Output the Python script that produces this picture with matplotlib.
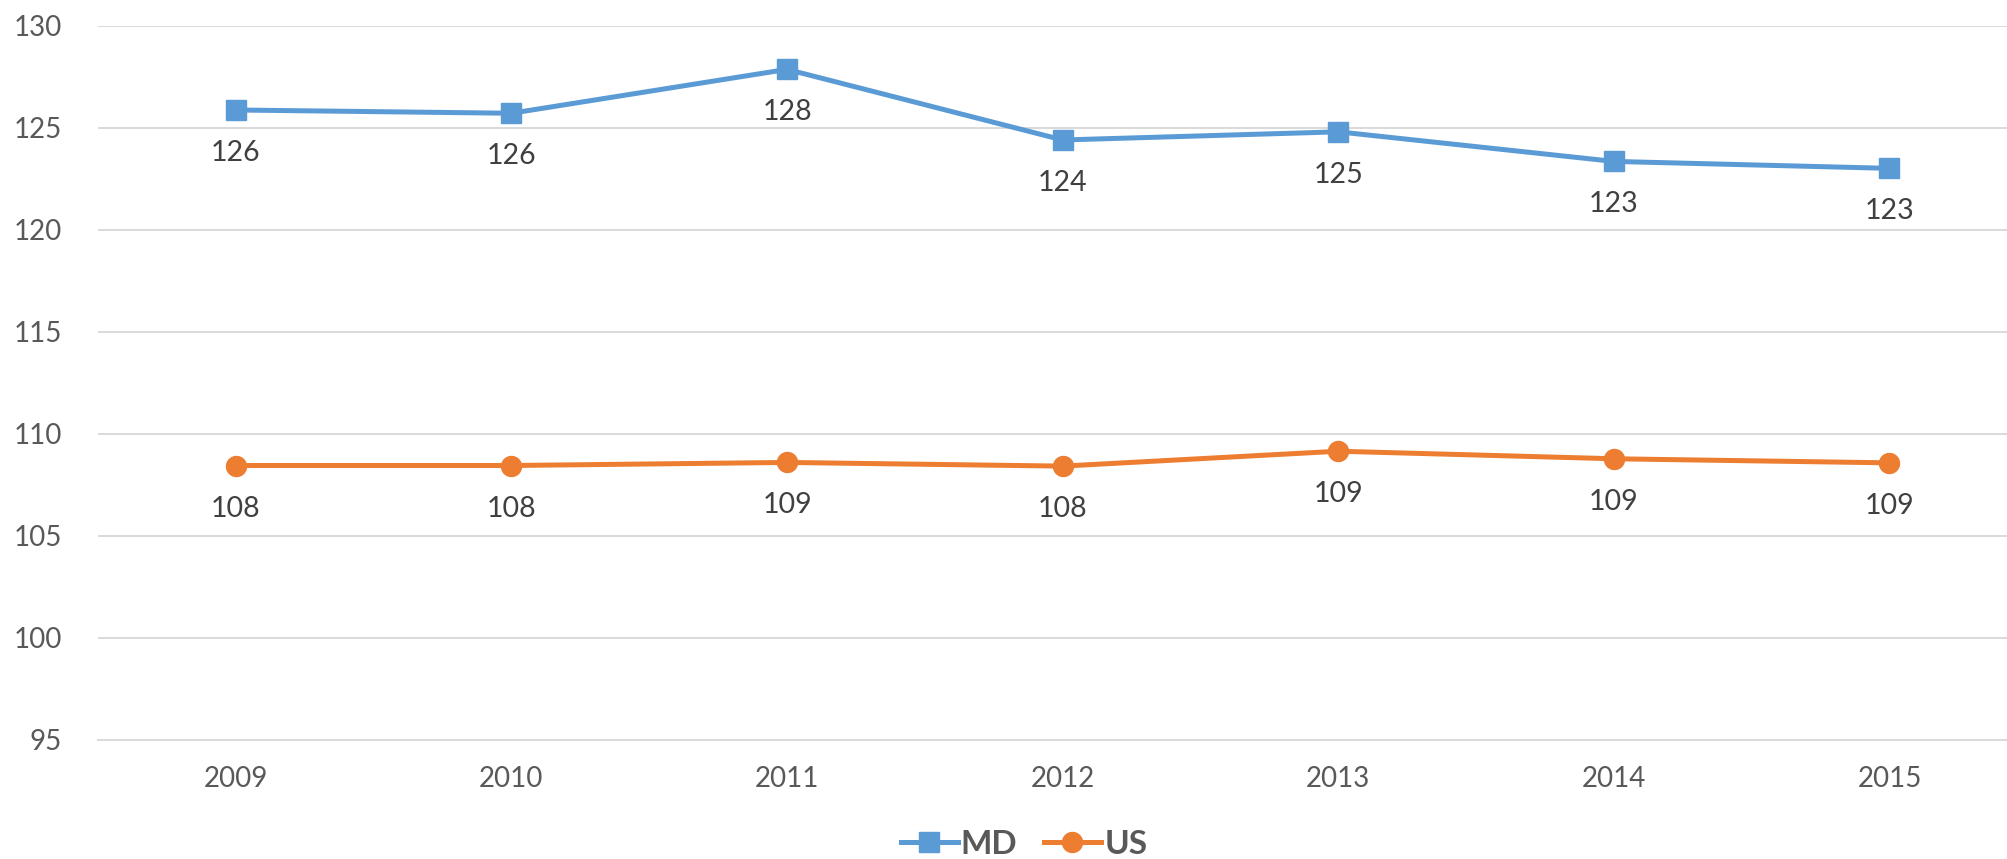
import matplotlib
matplotlib.use("Agg")
import matplotlib.pyplot as plt

# values
years = ['2009', '2010', '2011', '2012', '2013', '2014', '2015']
md = [125.87, 125.71, 127.86, 124.40, 124.80, 123.35, 123.01]
us = [108.45, 108.45, 108.60, 108.42, 109.15, 108.78, 108.58]
yticks = [95, 100, 105, 110, 115, 120, 125, 130]

blue = '#5B9BD5'
orange = '#ED7D31'
grid_col = '#D9D9D9'
tick_col = '#595959'
label_col = '#404040'

plt.rcParams['font.family'] = ['Lato', 'DejaVu Sans']

fig = plt.figure(figsize=(20.08, 8.59), dpi=100)
ax = fig.add_axes([98 / 2008, 1 - 740 / 859, 1 - 98 / 2008, (740 - 25.7) / 859])

x = list(range(len(years)))
ax.plot(x, md, color=blue, lw=3.6, marker='s', markersize=14.4, label='MD',
        solid_joinstyle='round', zorder=3)
ax.plot(x, us, color=orange, lw=3.6, marker='o', markersize=14.4, label='US',
        solid_joinstyle='round', zorder=3)

for xi, v in zip(x, md):
    ax.annotate(f'{v:.0f}', (xi, v), xytext=(0, -31), textcoords='offset points',
                ha='center', va='center', fontsize=20.5, color=label_col)
for xi, v in zip(x, us):
    ax.annotate(f'{v:.0f}', (xi, v), xytext=(0, -31), textcoords='offset points',
                ha='center', va='center', fontsize=20.5, color=label_col)

ax.set_xlim(-0.5, 6.43)
ax.set_ylim(95, 130)
ax.set_yticks(yticks)
ax.set_xticks(x)
ax.set_xticklabels(years)
ax.grid(axis='y', color=grid_col, lw=1.4)
ax.set_axisbelow(True)
for s in ['top', 'right', 'left']:
    ax.spines[s].set_visible(False)
ax.spines['bottom'].set_color(grid_col)
ax.spines['bottom'].set_linewidth(1.4)
ax.tick_params(axis='both', length=0, labelsize=20, colors=tick_col)
ax.tick_params(axis='y', pad=26)
ax.tick_params(axis='x', pad=19)

fig.legend(loc='center', bbox_to_anchor=(0.51, 0.017), ncol=2, frameon=False,
           handlelength=1.7, handletextpad=0.1, columnspacing=0.8,
           prop={'size': 24, 'weight': 'bold'}, labelcolor=tick_col)

fig.savefig('out.png', dpi=100)
